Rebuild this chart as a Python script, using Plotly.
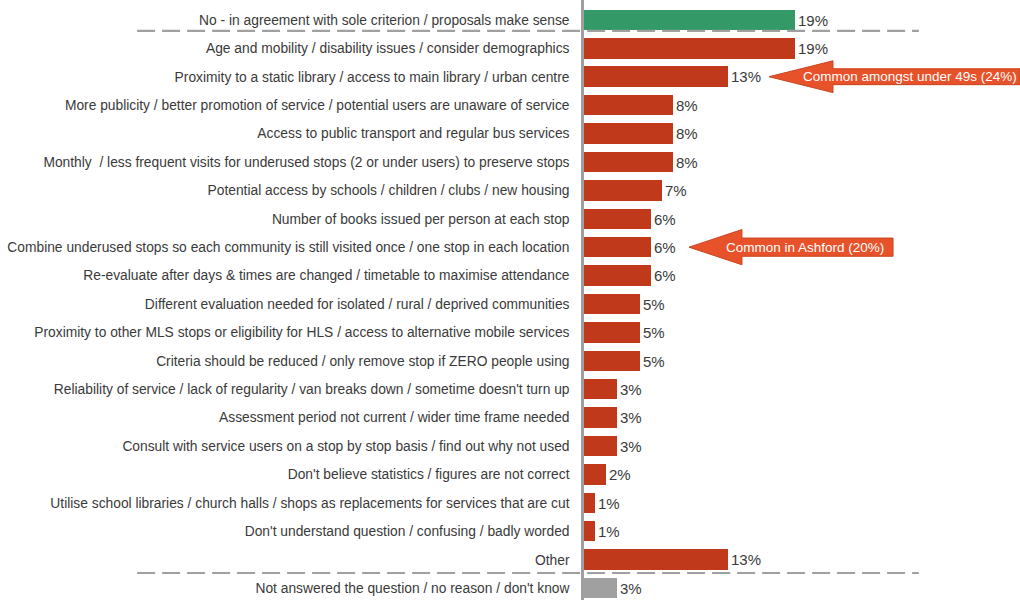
import plotly.graph_objects as go

# Survey responses: reasons given about the stop criterion (share of respondents, %)
categories = [
    "No - in agreement with sole criterion / proposals make sense",
    "Age and mobility / disability issues / consider demographics",
    "Proximity to a static library / access to main library / urban centre",
    "More publicity / better promotion of service / potential users are unaware of service",
    "Access to public transport and regular bus services",
    "Monthly\u00a0\u00a0/ less frequent visits for underused stops (2 or under users) to preserve stops",
    "Potential access by schools / children / clubs / new housing",
    "Number of books issued per person at each stop",
    "Combine underused stops so each community is still visited once / one stop in each location",
    "Re-evaluate after days & times are changed / timetable to maximise attendance",
    "Different evaluation needed for isolated / rural / deprived communities",
    "Proximity to other MLS stops or eligibility for HLS / access to alternative mobile services",
    "Criteria should be reduced / only remove stop if ZERO people using",
    "Reliability of service / lack of regularity / van breaks down / sometime doesn't turn up",
    "Assessment period not current / wider time frame needed",
    "Consult with service users on a stop by stop basis / find out why not used",
    "Don't believe statistics / figures are not correct",
    "Utilise school libraries / church halls / shops as replacements for services that are cut",
    "Don't understand question / confusing / badly worded",
    "Other",
    "Not answered the question / no reason / don't know",
]
values = [19, 19, 13, 8, 8, 8, 7, 6, 6, 6, 5, 5, 5, 3, 3, 3, 2, 1, 1, 13, 3]
groups = ["agree"] + ["reason"] * 19 + ["none"]

# Callouts: (row index, text)
callouts = [
    (2, "Common amongst under 49s (24%)"),
    (8, "Common in Ashford (20%)"),
]

group_colors = {"agree": "#339966", "reason": "#C0391B", "none": "#A0A0A0"}
text_color = "#3A3A3A"
font_family = "Liberation Sans, Arial, sans-serif"

rows = list(range(len(categories)))
y_top, y_bottom = -0.70, 20.42
x_max = 39.28

fig = go.Figure(
    go.Bar(
        x=values,
        y=rows,
        orientation="h",
        width=0.72,
        marker=dict(color=[group_colors[g] for g in groups], line=dict(width=0)),
        text=[f"{v}%" for v in values],
        textposition="outside",
        textfont=dict(size=15, color=text_color, family=font_family),
        constraintext="none",
        cliponaxis=False,
        hoverinfo="skip",
    )
)


def paper_y(row_pos):
    return (y_bottom - row_pos) / (y_bottom - y_top)


shapes = []
# Dashed separators below the "agree" row and above the "no answer" row
for row_pos in (0.39, 19.47):
    shapes.append(dict(
        type="line", xref="paper", yref="paper",
        x0=-1.025, x1=0.768, y0=paper_y(row_pos), y1=paper_y(row_pos),
        line=dict(color="#A0A0A0", width=2.2, dash="18px,7px"),
        layer="above",
    ))

# Arrow-shaped callouts pointing at bars
arrow_specs = {
    2: dict(tip=3.67, head=5.76, right=x_max, head_h=0.56, body_h=0.28, shift=2.9),
    8: dict(tip=3.46, head=4.77, right=27.84, head_h=0.62, body_h=0.32, shift=2.2),
}
annotations = []
for row, label in callouts:
    s = arrow_specs[row]
    tip = values[row] + s["tip"]
    neck = tip + s["head"]
    right = s["right"]
    path = (
        f"M {tip},{row} L {neck},{row - s['head_h']} L {neck},{row - s['body_h']} "
        f"L {right},{row - s['body_h']} L {right},{row + s['body_h']} "
        f"L {neck},{row + s['body_h']} L {neck},{row + s['head_h']} Z"
    )
    shapes.append(dict(
        type="path", xref="x", yref="y", path=path,
        fillcolor="#E8522A", line=dict(color="#C9431F", width=1), layer="above",
    ))
    annotations.append(dict(
        x=(neck - s["shift"] + right) / 2,
        y=row, xref="x", yref="y", text=label, showarrow=False,
        font=dict(size=13.5, color="white", family=font_family),
    ))

fig.update_layout(
    width=1020, height=600,
    margin=dict(l=584, r=0, t=0, b=0),
    paper_bgcolor="white", plot_bgcolor="white",
    showlegend=False,
    font=dict(family=font_family, color=text_color),
    xaxis=dict(range=[0, x_max], visible=False, fixedrange=True),
    yaxis=dict(
        range=[y_bottom, y_top],
        tickmode="array", tickvals=rows, ticktext=categories,
        tickfont=dict(size=13.8, color=text_color, family=font_family),
        ticks="outside", ticklen=9, tickcolor="rgba(0,0,0,0)",
        showline=True, linecolor="#A0A0A0", linewidth=2.5,
        showgrid=False, zeroline=False, automargin=False, fixedrange=True,
    ),
    shapes=shapes,
    annotations=annotations,
    bargap=0,
)

fig.write_html("out.html")
